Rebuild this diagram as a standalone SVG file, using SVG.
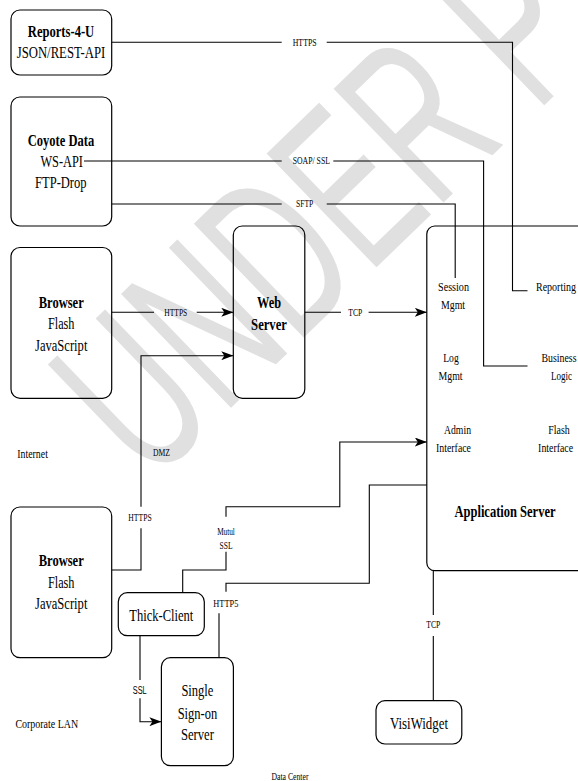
<svg xmlns="http://www.w3.org/2000/svg" width="578" height="781" viewBox="0 0 578 781">
<style>
  .box{fill:none;stroke:#000;stroke-width:1.2}
  .ln{fill:none;stroke:#000;stroke-width:1.1}
  .t{font-family:"Liberation Serif",serif;fill:#000;text-anchor:middle}
  .big{font-size:16px}
  .bold{font-weight:bold}
  .mid{font-size:13px}
  .sm{font-size:10px}
  .free{font-size:12.5px}
  .sans{font-family:"Liberation Sans",sans-serif;font-size:10px;fill:#000;text-anchor:middle}
  .wm{font-family:"Liberation Sans",sans-serif;fill:#e0e0e0}
</style>
<defs>
  <marker id="arr" markerUnits="userSpaceOnUse" viewBox="0 0 12 9" refX="12" refY="4.5" markerWidth="12" markerHeight="9" orient="auto">
    <path d="M0,0 L12,4.5 L0,9 L3,4.5 Z" fill="#000"/>
  </marker>
</defs>
<rect x="0" y="0" width="578" height="781" fill="#fff"/>
<g id="watermark">
  <text class="wm" transform="translate(150,486) rotate(-44)" font-size="230" textLength="630" lengthAdjust="spacingAndGlyphs">UNDER P</text>
</g>
<g id="connectors">
  <path class="ln" d="M111.7,42.3 H281.7 M326.7,42.3 H512.5 V290.7 H527.5"/>
  <path class="ln" d="M84,161 H281.7 M333.3,161 H483.6 V366 H527.5"/>
  <path class="ln" d="M111.7,204 H281.7 M326.7,204 H455.2 V278"/>
  <path class="ln" d="M111.7,312.3 H154 M196.7,312.3 H233.3" marker-end="url(#arr)"/>
  <path class="ln" d="M304.8,312.3 H341 M368.6,312.3 H426.8" marker-end="url(#arr)"/>
  <path class="ln" d="M111.7,570 H141 V528.3 M141,506.7 V355.7 H233.3" marker-end="url(#arr)"/>
  <path class="ln" d="M182.7,592.7 V570 H226 V551.7 M226,516.7 V506.7 H339.8 V442 H426.8" marker-end="url(#arr)"/>
  <path class="ln" d="M219,657.7 V613.3 M226,591.7 V583.3 H369.3 V485 H426.8"/>
  <path class="ln" d="M140,635.7 V680 M140,698.3 V721.7 H161.4" marker-end="url(#arr)"/>
  <path class="ln" d="M433.3,570.7 V615 M433.3,636 V700.7"/>
  <text class="t sm" x="304.7" y="45.6" textLength="24" lengthAdjust="spacingAndGlyphs">HTTPS</text>
  <text class="t sm" x="311.3" y="164.3" textLength="37.3" lengthAdjust="spacingAndGlyphs">SOAP/ SSL</text>
  <text class="t sm" x="304.7" y="207.3" textLength="17.3" lengthAdjust="spacingAndGlyphs">SFTP</text>
  <text class="t sm" x="175.8" y="315.6" textLength="23" lengthAdjust="spacingAndGlyphs">HTTPS</text>
  <text class="t sm" x="355.3" y="315.6" textLength="14" lengthAdjust="spacingAndGlyphs">TCP</text>
  <text class="t sm" x="140" y="520.6" textLength="23.3" lengthAdjust="spacingAndGlyphs">HTTPS</text>
  <text class="t sm" x="226" y="535" textLength="17.7" lengthAdjust="spacingAndGlyphs">Mutul</text>
  <text class="t sm" x="226" y="549" textLength="13" lengthAdjust="spacingAndGlyphs">SSL</text>
  <text class="t sm" x="225.8" y="606.6" textLength="25" lengthAdjust="spacingAndGlyphs">HTTP5</text>
  <text class="t sm" x="433.3" y="628.3" textLength="14" lengthAdjust="spacingAndGlyphs">TCP</text>
  <text class="sans" x="139.7" y="694.3" textLength="14" lengthAdjust="spacingAndGlyphs">SSL</text>
</g>
<g id="reports">
  <rect class="box" x="11" y="10" width="100.7" height="65" rx="9"/>
  <text class="t big bold" x="61" y="37" textLength="66.4" lengthAdjust="spacingAndGlyphs">Reports-4-U</text>
  <text class="t big" x="61" y="58" textLength="88.5" lengthAdjust="spacingAndGlyphs">JSON/REST-API</text>
</g>
<g id="coyote">
  <rect class="box" x="11" y="97" width="100.7" height="129" rx="9"/>
  <text class="t big bold" x="61" y="146" textLength="66.4" lengthAdjust="spacingAndGlyphs">Coyote Data</text>
  <text class="t big" x="61.7" y="166.5" textLength="42.5" lengthAdjust="spacingAndGlyphs">WS-API</text>
  <text class="t big" x="60.8" y="188" textLength="51.6" lengthAdjust="spacingAndGlyphs">FTP-Drop</text>
</g>
<g id="browser1">
  <rect class="box" x="11" y="247.5" width="100.7" height="150.8" rx="9"/>
  <text class="t big bold" x="61.2" y="307.5" textLength="45" lengthAdjust="spacingAndGlyphs">Browser</text>
  <text class="t big" x="61.2" y="329" textLength="26.5" lengthAdjust="spacingAndGlyphs">Flash</text>
  <text class="t big" x="61.2" y="350.5" textLength="52.4" lengthAdjust="spacingAndGlyphs">JavaScript</text>
</g>
<g id="webserver">
  <rect class="box" x="233.3" y="226" width="71.5" height="172.3" rx="9"/>
  <text class="t big bold" x="269" y="308" textLength="24" lengthAdjust="spacingAndGlyphs">Web</text>
  <text class="t big bold" x="269" y="329.5" textLength="35.8" lengthAdjust="spacingAndGlyphs">Server</text>
</g>
<g id="appserver">
  <rect class="box" x="426.8" y="226" width="200" height="344.7" rx="8"/>
  <text class="t mid" x="453.5" y="291" textLength="31" lengthAdjust="spacingAndGlyphs">Session</text>
  <text class="t mid" x="453" y="309.3" textLength="24" lengthAdjust="spacingAndGlyphs">Mgmt</text>
  <text class="t mid" x="556" y="291" textLength="40" lengthAdjust="spacingAndGlyphs">Reporting</text>
  <text class="t mid" x="451" y="361.6" textLength="15.5" lengthAdjust="spacingAndGlyphs">Log</text>
  <text class="t mid" x="450.6" y="380" textLength="24" lengthAdjust="spacingAndGlyphs">Mgmt</text>
  <text class="t mid" x="559" y="361.6" textLength="35" lengthAdjust="spacingAndGlyphs">Business</text>
  <text class="t mid" x="561.5" y="380" textLength="21" lengthAdjust="spacingAndGlyphs">Logic</text>
  <text class="t mid" x="457.5" y="433.6" textLength="27" lengthAdjust="spacingAndGlyphs">Admin</text>
  <text class="t mid" x="453.5" y="451.6" textLength="35" lengthAdjust="spacingAndGlyphs">Interface</text>
  <text class="t mid" x="559" y="433.6" textLength="21.5" lengthAdjust="spacingAndGlyphs">Flash</text>
  <text class="t mid" x="555.6" y="451.6" textLength="35" lengthAdjust="spacingAndGlyphs">Interface</text>
  <text class="t big bold" x="505" y="516.5" textLength="101" lengthAdjust="spacingAndGlyphs">Application Server</text>
</g>
<g id="browser2">
  <rect class="box" x="11" y="507" width="100.7" height="150.7" rx="9"/>
  <text class="t big bold" x="61.2" y="566" textLength="45" lengthAdjust="spacingAndGlyphs">Browser</text>
  <text class="t big" x="61.2" y="587.5" textLength="26.5" lengthAdjust="spacingAndGlyphs">Flash</text>
  <text class="t big" x="61.2" y="609" textLength="52.4" lengthAdjust="spacingAndGlyphs">JavaScript</text>
</g>
<g id="thickclient">
  <rect class="box" x="118.3" y="592.7" width="86" height="43" rx="9"/>
  <text class="t big" x="161.3" y="621" textLength="64" lengthAdjust="spacingAndGlyphs">Thick-Client</text>
</g>
<g id="sso">
  <rect class="box" x="161.4" y="657.7" width="72" height="108" rx="9"/>
  <text class="t big" x="197.4" y="696" textLength="32" lengthAdjust="spacingAndGlyphs">Single</text>
  <text class="t big" x="197.4" y="718.5" textLength="39.5" lengthAdjust="spacingAndGlyphs">Sign-on</text>
  <text class="t big" x="197.4" y="740" textLength="33" lengthAdjust="spacingAndGlyphs">Server</text>
</g>
<g id="visiwidget">
  <rect class="box" x="376" y="700.7" width="85.8" height="43.3" rx="9"/>
  <text class="t big" x="419" y="728.5" textLength="58" lengthAdjust="spacingAndGlyphs">VisiWidget</text>
</g>
<g id="zones">
  <text class="t free" x="32.6" y="457.5" textLength="30.6" lengthAdjust="spacingAndGlyphs">Internet</text>
  <text class="t sm" x="161.5" y="456" textLength="17" lengthAdjust="spacingAndGlyphs">DMZ</text>
  <text class="t free" x="46.8" y="727.5" textLength="62.7" lengthAdjust="spacingAndGlyphs">Corporate LAN</text>
  <text class="t sm" x="290" y="780" textLength="37" lengthAdjust="spacingAndGlyphs">Data Center</text>
</g>
</svg>
